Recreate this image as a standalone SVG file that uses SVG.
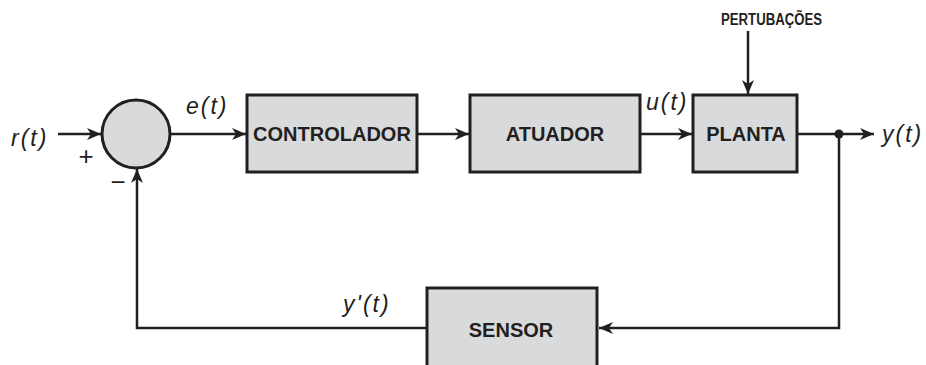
<svg xmlns="http://www.w3.org/2000/svg" width="926" height="365" viewBox="0 0 926 365">
<style>
.box{fill:#d9dadc;stroke:#231f20;stroke-width:3}
.lbl{font-family:"Liberation Sans",Arial,sans-serif;font-weight:bold;font-size:20px;fill:#231f20;text-anchor:middle}
.sig{font-family:"Liberation Sans",Arial,sans-serif;font-style:italic;font-size:23px;fill:#231f20;letter-spacing:2px}
.op{font-family:"Liberation Sans",Arial,sans-serif;font-size:26px;fill:#231f20;text-anchor:middle}
.wire{fill:none;stroke:#231f20;stroke-width:2.5}
.arr{fill:none;stroke:#231f20;stroke-width:2.5;marker-end:url(#ah)}
</style>
<defs>
<marker id="ah" markerUnits="userSpaceOnUse" markerWidth="16" markerHeight="14" refX="14" refY="7" orient="auto">
<path d="M0,1 L14,7 L0,13 L4,7 Z" fill="#231f20"/>
</marker>
</defs>
<rect width="926" height="365" fill="#ffffff"/>
<g id="sum">
<circle cx="136" cy="134" r="34" class="box"/>
<text x="86" y="165" class="op">+</text>
<text x="118" y="191" class="op">−</text>
</g>
<g id="controlador">
<rect x="247" y="95" width="170" height="77" class="box"/>
<text x="332" y="141" class="lbl">CONTROLADOR</text>
</g>
<g id="atuador">
<rect x="470" y="95" width="170" height="77" class="box"/>
<text x="555" y="141" class="lbl">ATUADOR</text>
</g>
<g id="planta">
<rect x="693" y="95" width="104" height="77" class="box"/>
<text x="746" y="141" class="lbl">PLANTA</text>
</g>
<g id="sensor">
<rect x="427" y="288" width="170" height="90" class="box"/>
<text x="511" y="337" class="lbl">SENSOR</text>
</g>
<g id="labels">
<text x="11" y="146" class="sig">r(t)</text>
<text x="186" y="114" class="sig">e(t)</text>
<text x="646" y="110" class="sig">u(t)</text>
<text x="882" y="142" class="sig">y(t)</text>
<text x="343" y="312" class="sig">y'(t)</text>
<text x="721" y="25" font-family="Liberation Sans,Arial,sans-serif" font-weight="bold" font-size="16" fill="#231f20" textLength="101" lengthAdjust="spacingAndGlyphs">PERTUBAÇÕES</text>
</g>
<g id="connectors">
<line x1="58" y1="134" x2="101" y2="134" class="arr"/>
<line x1="170" y1="134" x2="246" y2="134" class="arr"/>
<line x1="417" y1="134" x2="469" y2="134" class="arr"/>
<line x1="640" y1="134" x2="692" y2="134" class="arr"/>
<line x1="748" y1="31" x2="748" y2="94" class="arr"/>
<line x1="797" y1="134" x2="874" y2="134" class="arr"/>
<circle cx="839" cy="134" r="4.5" fill="#231f20"/>
<path d="M839,134 V328 H599" class="arr"/>
<path d="M427,328 H137 V169" class="arr"/>
</g>
</svg>
